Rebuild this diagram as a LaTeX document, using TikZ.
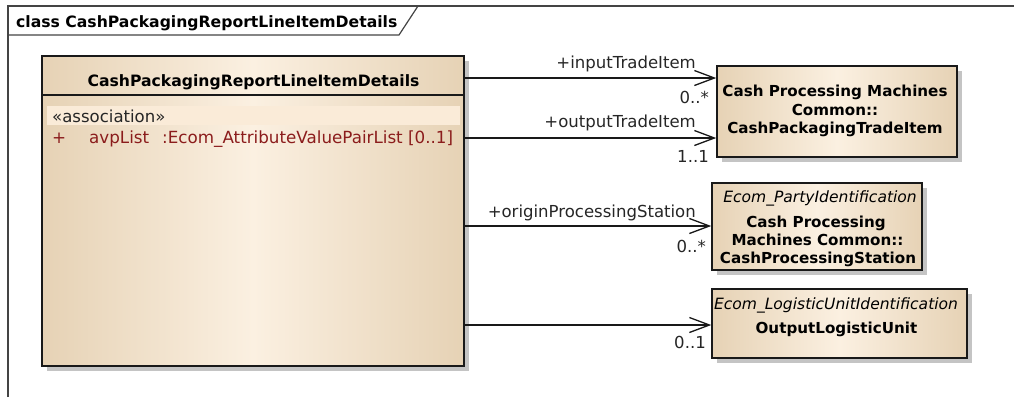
\documentclass[tikz,border=0pt]{standalone}
\usepackage{fontspec}
\setmainfont{DejaVu Sans}
\usetikzlibrary{arrows.meta,shadows}
\definecolor{tanedge}{HTML}{E6D2B5}
\definecolor{tanmid}{HTML}{FBF0E1}
\definecolor{band}{HTML}{FAEBD8}
\definecolor{attrred}{HTML}{8B1C1C}
\definecolor{framegray}{HTML}{444444}
\definecolor{shadowgray}{HTML}{C4C4C4}
\tikzset{
  classbox/.style={draw=black!90, line width=1.5bp, inner sep=0pt,
    left color=tanedge, right color=tanedge, middle color=tanmid,
    drop shadow={shadow xshift=5bp, shadow yshift=-5bp, fill=shadowgray, opacity=1}},
  boldtxt/.style={font=\fontsize{15.2}{18}\selectfont\bfseries, inner sep=0pt, anchor=base},
  titletxt/.style={font=\fontsize{15.7}{18}\selectfont\bfseries, inner sep=0pt, anchor=base},
  itxt/.style={font=\fontsize{15.6}{18}\selectfont\itshape, inner sep=0pt, anchor=base},
  regtxt/.style={font=\fontsize{16.6}{19}\selectfont, inner sep=0pt, anchor=base east, text=black!85},
  attr/.style={font=\fontsize{16.8}{19}\selectfont, inner sep=0pt, anchor=base west, text=attrred},
  assoc/.style={draw=black!90, line width=1.3bp, -{Straight Barb[length=20bp,width=15bp,line width=1.3bp]}},
}
\begin{document}
\begin{tikzpicture}[x=1bp,y=-1bp]
\useasboundingbox (0,0) rectangle (1014,397);
% frame
\draw[framegray, line width=1.2bp] (8,397) -- (8,6) -- (1014,6);
\draw[framegray, line width=1.2bp] (8,35) -- (399,35) -- (418,6);
\node[titletxt, anchor=base west] (frametitle) at (16,27) {class CashPackagingReportLineItemDetails};

% main class
\node[classbox, minimum width=422bp, minimum height=310bp] (main) at (253,211) {};
\coordinate (hy) at (0,95);
\draw[black!90, line width=1.5bp] (main.west |- hy) -- (main.east |- hy);
\fill[band] (47,106) rectangle (460,125);
\node[titletxt] (maintitle) at (253.5,86) {CashPackagingReportLineItemDetails};
\node[regtxt, anchor=base west] (stereo) at (52,122) {«association»};
\node[attr] (plus) at (52,143) {+};
\node[attr] (avp) at (89,143) {avpList};
\node[attr] (avptype) at (162,143) {:Ecom\_AttributeValuePairList [0..1]};

% target classes
\node[classbox, minimum width=240bp, minimum height=91bp] (tradeitem) at (837,111.5) {};
\node[boldtxt] (ti1) at (835,96) {Cash Processing Machines};
\node[boldtxt] (ti2) at (835,115) {Common::};
\node[boldtxt] (ti3) at (835,133) {CashPackagingTradeItem};

\node[classbox, minimum width=210bp, minimum height=87bp] (station) at (817,226.5) {};
\node[itxt, anchor=base east] (st0) at (917,202) {Ecom\_PartyIdentification};
\node[boldtxt] (st1) at (816,227) {Cash Processing};
\node[boldtxt] (st2) at (817.5,245) {Machines Common::};
\node[boldtxt] (st3) at (818,263) {CashProcessingStation};

\node[classbox, minimum width=255bp, minimum height=69bp] (logunit) at (839.5,323.5) {};
\node[itxt] (lu0) at (836,309) {Ecom\_LogisticUnitIdentification};
\node[boldtxt] (lu1) at (836.5,333) {OutputLogisticUnit};

% connectors
\coordinate (c1) at (0,78);
\coordinate (c2) at (0,138);
\coordinate (c3) at (0,226);
\coordinate (c4) at (0,325);
\draw[assoc] (main.east |- c1) -- (tradeitem.west |- c1);
\draw[assoc] (main.east |- c2) -- (tradeitem.west |- c2);
\draw[assoc] (main.east |- c3) -- (station.west |- c3);
\draw[assoc] (main.east |- c4) -- (logunit.west |- c4);

% labels
\node[regtxt] (l1) at (696,68) {+inputTradeItem};
\node[regtxt] (m1) at (709,103) {0..*};
\node[regtxt] (l2) at (696,127) {+outputTradeItem};
\node[regtxt] (m2) at (709,162) {1..1};
\node[regtxt] (l3) at (696,217) {+originProcessingStation};
\node[regtxt] (m3) at (706,252) {0..*};
\node[regtxt] (m4) at (706,348) {0..1};
\end{tikzpicture}
\end{document}
